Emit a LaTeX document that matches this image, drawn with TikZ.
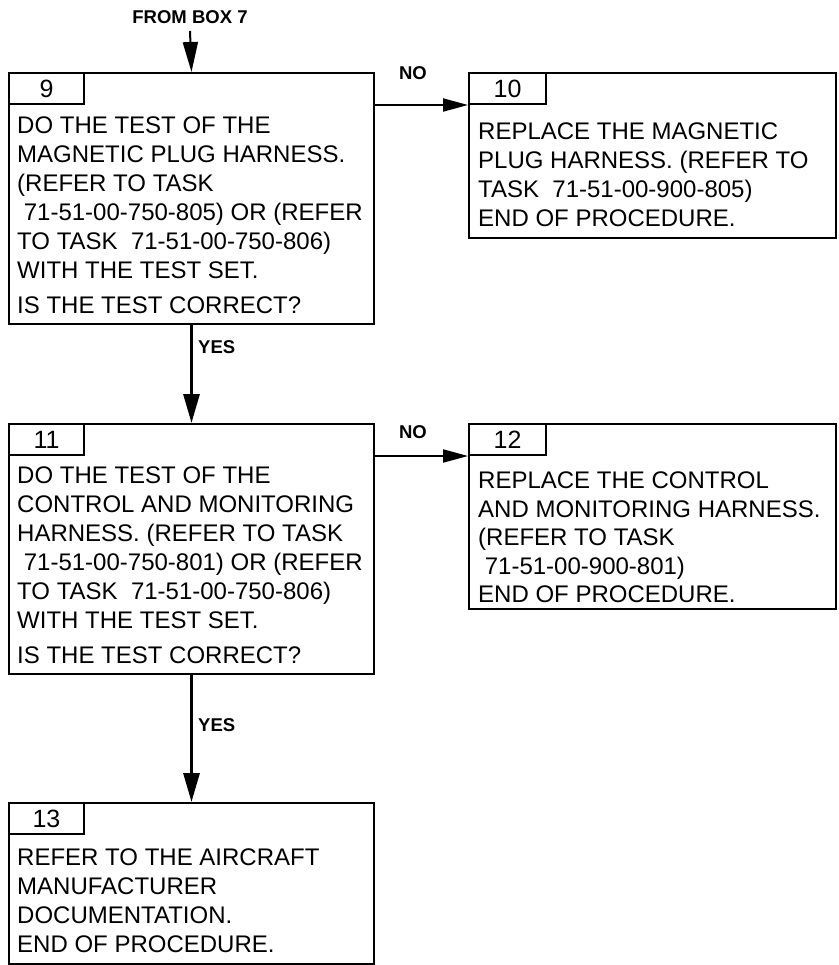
\documentclass[tikz,border=0pt]{standalone}
\usepackage{fontspec}
\setmainfont{Liberation Sans}
\usetikzlibrary{arrows.meta}
\begin{document}
\begin{tikzpicture}[x=1pt,y=-1pt,
  box/.style={draw, line width=2pt, anchor=north west, inner sep=0pt},
  tab/.style={draw, line width=2pt, anchor=north west, inner sep=0pt, minimum width=75pt, minimum height=31pt, font=\fontsize{25}{29}\selectfont},
  body/.style={anchor=north west, inner sep=0pt, align=left, font=\fontsize{24}{29}\selectfont},
  lbl/.style={inner sep=0pt, font=\fontsize{18.5}{22}\selectfont\bfseries},
  varr/.style={line width=3pt, -{Triangle[length=29pt,width=16pt]}},
  harr/.style={line width=2pt, -{Triangle[length=25pt,width=13pt]}}
]
\useasboundingbox (0,0) rectangle (838,965);
% box 9
\node[box, minimum width=365pt, minimum height=251pt] (b9) at (8,72) {};
\node[tab] (t9) at (8,72) {9};
\node[body] (x9) at (17,117) {DO THE TEST OF THE\\MAGNETIC PLUG HARNESS.\\(REFER TO TASK\\\ 71-51-00-750-805) OR (REFER\\TO TASK\ \ 71-51-00-750-806)\\WITH THE TEST SET.\\[6pt]IS THE TEST CORRECT?};
% box 10
\node[box, minimum width=367pt, minimum height=165pt] (b10) at (468,72) {};
\node[tab, minimum width=77pt] (t10) at (468,72) {10};
\node[body] (x10) at (478,123) {REPLACE THE MAGNETIC\\PLUG HARNESS. (REFER TO\\TASK\ \ 71-51-00-900-805)\\END OF PROCEDURE.};
% box 11
\node[box, minimum width=365pt, minimum height=250pt] (b11) at (8,423) {};
\node[tab] (t11) at (8,423) {11};
\node[body] (x11) at (17,467) {DO THE TEST OF THE\\CONTROL AND MONITORING\\HARNESS. (REFER TO TASK\\\ 71-51-00-750-801) OR (REFER\\TO TASK\ \ 71-51-00-750-806)\\WITH THE TEST SET.\\[6pt]IS THE TEST CORRECT?};
% box 12
\node[box, minimum width=367pt, minimum height=185pt] (b12) at (468,423) {};
\node[tab, minimum width=77pt] (t12) at (468,423) {12};
\node[body, font=\fontsize{24}{28.5}\selectfont] (x12) at (478,472) {REPLACE THE CONTROL\\AND MONITORING HARNESS.\\(REFER TO TASK\\\ 71-51-00-900-801)\\END OF PROCEDURE.};
% box 13
\node[box, minimum width=365pt, minimum height=161pt] (b13) at (8,802) {};
\node[tab] (t13) at (8,802) {13};
\node[body] (x13) at (17,849) {REFER TO THE AIRCRAFT\\MANUFACTURER\\DOCUMENTATION.\\END OF PROCEDURE.};
% labels
\node[lbl] (from) at (190,17) {FROM BOX 7};
\coordinate (fromend) at (190,31);
\node[lbl, anchor=west] (yes1) at (198,347) {YES};
\node[lbl, anchor=west] (yes2) at (198,725) {YES};
\node[lbl] (no1) at (413,73) {NO};
\node[lbl] (no2) at (413,432) {NO};
% connectors
\draw[line width=2pt, -{Triangle[length=30pt,width=15pt]}] (fromend) -- (b9.north);
\draw[varr] (b9.south) -- (b11.north);
\draw[varr] (b11.south) -- (b13.north);
\draw[harr] (b9.east |- t10.south west) -- (t10.south west);
\draw[harr] (b11.east |- t12.south west) -- (t12.south west);
\end{tikzpicture}
\end{document}
